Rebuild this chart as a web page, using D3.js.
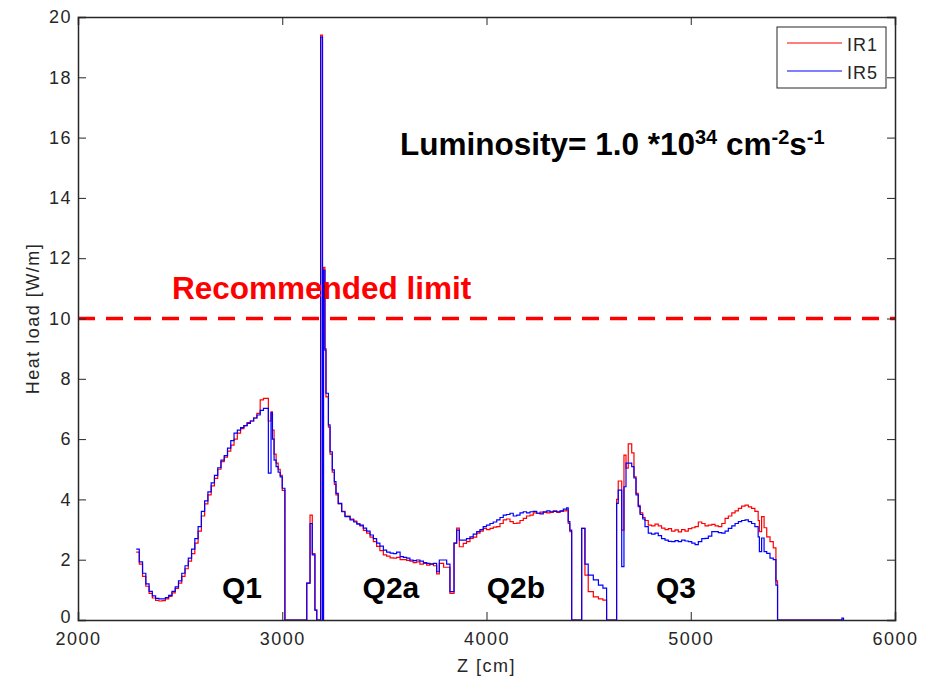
<!DOCTYPE html>
<html>
<head>
<meta charset="utf-8">
<script src="https://cdn.jsdelivr.net/npm/d3@7"></script>
<style>
    body { margin: 0; background: #fff; }
    svg { display: block; font-family: "Liberation Sans", Arial, sans-serif; }
</style>
</head>
<body>
<div id="chart"></div>
<script>
// bin start positions along Z [cm] (stairs, each value holds until the next z)
const zEdges = [
    2285, 2300, 2316, 2332, 2348, 2364, 2380, 2396, 2412, 2428, 2444, 2460, 2476, 2492, 2508, 2524,
    2540, 2556, 2572, 2588, 2604, 2620, 2636, 2652, 2668, 2684, 2700, 2716, 2732, 2748, 2764, 2780,
    2796, 2812, 2828, 2844, 2860, 2876, 2892, 2908, 2922, 2932, 2945, 2952, 2960, 2970, 2980, 2990,
    3000, 3013, 3120, 3136, 3147, 3160, 3169, 3188, 3197, 3202, 3209, 3214, 3226, 3234, 3245, 3255,
    3263, 3274, 3291, 3307, 3332, 3350, 3365, 3380, 3397, 3413, 3430, 3446, 3462, 3478, 3495, 3511,
    3528, 3544, 3560, 3577, 3593, 3609, 3625, 3641, 3657, 3674, 3691, 3707, 3723, 3740, 3756, 3769,
    3790, 3805, 3821, 3841, 3854, 3867, 3886, 3902, 3919, 3935, 3952, 3968, 3984, 4000, 4017, 4033,
    4050, 4066, 4082, 4098, 4115, 4131, 4148, 4164, 4180, 4196, 4213, 4229, 4246, 4262, 4278, 4295,
    4311, 4327, 4344, 4360, 4376, 4392, 4400, 4408, 4417, 4466, 4482, 4498, 4523, 4548, 4570, 4588,
    4637, 4645, 4662, 4673, 4683, 4694, 4711, 4722, 4732, 4743, 4752, 4765, 4776, 4792, 4808, 4825,
    4841, 4857, 4874, 4890, 4906, 4923, 4939, 4955, 4972, 4988, 5005, 5021, 5037, 5054, 5070, 5086,
    5103, 5119, 5135, 5152, 5168, 5184, 5201, 5217, 5233, 5249, 5266, 5282, 5298, 5314, 5330, 5336,
    5347, 5359, 5372, 5388, 5404, 5417, 5425, 5740, 5748
];

// heat load [W/m], IR1 (red)
const ir1 = [
    2.25, 1.85, 1.45, 1.12, 0.88, 0.73, 0.65, 0.63, 0.64, 0.70, 0.78, 0.90, 1.05, 1.22, 1.45, 1.70,
    1.95, 2.20, 2.55, 2.95, 3.45, 3.85, 4.15, 4.45, 4.70, 5.00, 5.25, 5.40, 5.60, 5.80, 6.00, 6.20,
    6.35, 6.45, 6.55, 6.60, 6.70, 6.85, 7.30, 7.35, 7.35, 6.60, 6.90, 6.30, 5.50, 5.20, 5.00, 4.80,
    4.30, 0, 1.22, 3.48, 2.20, 0.33, 0, 19.40, 0, 11.70, 9.00, 7.40, 6.40, 5.50, 4.90, 4.50,
    4.15, 3.85, 3.60, 3.45, 3.35, 3.28, 3.20, 3.12, 2.97, 2.88, 2.75, 2.60, 2.44, 2.30, 2.16, 2.12,
    2.06, 2.05, 2.08, 2.00, 2.00, 1.98, 1.95, 1.90, 1.93, 1.85, 1.88, 1.82, 1.86, 1.80, 1.53, 1.88,
    1.75, 1.75, 0.88, 2.55, 3.05, 2.43, 2.54, 2.60, 2.71, 2.75, 2.88, 2.95, 3.04, 3.00, 3.04, 3.08,
    3.10, 3.20, 3.32, 3.35, 3.26, 3.20, 3.21, 3.30, 3.37, 3.45, 3.48, 3.55, 3.54, 3.58, 3.57, 3.55,
    3.57, 3.62, 3.57, 3.60, 3.62, 3.65, 3.20, 2.93, 0, 3.04, 1.49, 0.94, 0.77, 0.70, 0.66, 0,
    4.00, 4.61, 2.98, 5.47, 5.04, 5.84, 5.54, 4.75, 4.20, 3.80, 3.55, 3.40, 3.30, 3.15, 3.12, 3.18,
    3.12, 3.05, 3.00, 3.03, 2.95, 2.99, 2.92, 3.00, 2.95, 3.03, 3.06, 3.10, 3.25, 3.20, 3.12, 3.15,
    3.17, 3.12, 3.10, 3.20, 3.37, 3.45, 3.55, 3.62, 3.70, 3.78, 3.81, 3.75, 3.70, 3.60, 3.30, 2.93,
    3.43, 3.06, 2.76, 2.60, 2.39, 1.30, 0, 0, 0
];

// heat load [W/m], IR5 (blue)
const ir5 = [
    2.35, 1.93, 1.55, 1.20, 0.95, 0.80, 0.72, 0.70, 0.70, 0.74, 0.82, 0.95, 1.10, 1.30, 1.55, 1.80,
    2.05, 2.35, 2.70, 3.10, 3.60, 3.95, 4.25, 4.55, 4.80, 5.05, 5.30, 5.45, 5.70, 5.95, 6.20, 6.30,
    6.38, 6.45, 6.52, 6.60, 6.70, 6.80, 6.95, 7.02, 7.02, 4.87, 6.87, 6.00, 5.30, 5.09, 4.90, 4.75,
    4.37, 0, 1.22, 3.20, 2.16, 0.33, 0, 19.33, 0, 11.60, 8.95, 7.52, 6.47, 5.58, 4.98, 4.59,
    4.20, 3.87, 3.59, 3.43, 3.32, 3.25, 3.18, 3.15, 3.05, 2.95, 2.82, 2.70, 2.55, 2.45, 2.32, 2.25,
    2.22, 2.20, 2.25, 2.10, 2.08, 2.05, 1.99, 1.97, 1.99, 1.95, 1.90, 1.88, 1.85, 1.88, 1.60, 1.99,
    1.99, 1.85, 0.94, 2.55, 2.98, 2.65, 2.65, 2.70, 2.76, 2.85, 2.93, 3.00, 3.10, 3.15, 3.20, 3.25,
    3.32, 3.40, 3.48, 3.50, 3.54, 3.45, 3.48, 3.55, 3.59, 3.55, 3.59, 3.60, 3.54, 3.52, 3.59, 3.62,
    3.59, 3.60, 3.59, 3.62, 3.68, 3.72, 3.26, 2.98, 0, 3.04, 1.85, 1.49, 1.33, 1.16, 1.06, 0,
    3.87, 4.31, 1.77, 4.42, 5.20, 5.20, 5.09, 4.71, 4.15, 3.76, 3.50, 3.35, 3.10, 2.88, 2.85, 2.88,
    2.80, 2.70, 2.65, 2.61, 2.60, 2.63, 2.60, 2.65, 2.62, 2.60, 2.55, 2.50, 2.60, 2.70, 2.71, 2.78,
    2.93, 2.93, 2.90, 2.88, 2.95, 3.04, 3.12, 3.20, 3.26, 3.30, 3.32, 3.26, 3.20, 3.10, 2.76, 2.27,
    2.72, 2.27, 2.21, 2.05, 2.00, 1.16, 0, 0.06, 0
];

const yTicks = [0, 2, 4, 6, 8, 10, 12, 14, 16, 18, 20];
const xTicks = [2000, 3000, 4000, 5000, 6000];
const LIMIT = 10;
const regions = [
    { label: 'Q1', z: 2803 },
    { label: 'Q2a', z: 3532 },
    { label: 'Q2b', z: 4144 },
    { label: 'Q3', z: 4928 }
];

const W = 935;
const H = 677;
const margin = { top: 17, right: 40, bottom: 57, left: 78 };
const innerW = W - margin.left - margin.right;
const innerH = H - margin.top - margin.bottom;

const svg = d3.select('#chart').append('svg').attr('width', W).attr('height', H);
const g = svg.append('g').attr('transform', `translate(${margin.left},${margin.top})`);

const x = d3.scaleLinear().domain([2000, 6000]).range([0, innerW]);
const y = d3.scaleLinear().domain([0, 20]).range([innerH, 0]);

const toPoints = (vals) => zEdges.map((z, i) => ({ z, v: vals[i] }));

const stairs = d3
    .line()
    .x((d) => x(d.z))
    .y((d) => y(d.v))
    .curve(d3.curveStepAfter);

g.append('path')
    .datum(toPoints(ir1))
    .attr('fill', 'none')
    .attr('stroke', '#ff0000')
    .attr('stroke-width', 1.2)
    .attr('d', stairs);

g.append('path')
    .datum(toPoints(ir5))
    .attr('fill', 'none')
    .attr('stroke', '#0000ff')
    .attr('stroke-width', 1.2)
    .attr('d', stairs);

// recommended limit
g.append('line')
    .attr('x1', 0)
    .attr('x2', innerW)
    .attr('y1', y(LIMIT))
    .attr('y2', y(LIMIT))
    .attr('stroke', '#ff0000')
    .attr('stroke-width', 3.5)
    .attr('stroke-dasharray', '17,11');

g.append('text')
    .attr('x', 94)
    .attr('y', y(LIMIT) - 20)
    .style('font-size', '31.5px')
    .style('font-weight', 'bold')
    .style('fill', '#ff0000')
    .text('Recommended limit');

// luminosity note
const lum = g.append('text')
    .attr('x', 322)
    .attr('y', 138)
    .style('font-size', '31.5px')
    .style('font-weight', 'bold')
    .style('fill', '#000');
lum.append('tspan').text('Luminosity= 1.0 *10');
lum.append('tspan').attr('dy', -11).style('font-size', '20px').text('34');
lum.append('tspan').attr('dy', 11).text(' cm');
lum.append('tspan').attr('dy', -11).style('font-size', '20px').text('-2');
lum.append('tspan').attr('dy', 11).text('s');
lum.append('tspan').attr('dy', -11).style('font-size', '20px').text('-1');

// magnet labels
g.selectAll('text.region')
    .data(regions)
    .enter()
    .append('text')
    .attr('class', 'region')
    .attr('x', (d) => x(d.z))
    .attr('y', innerH - 22)
    .attr('text-anchor', 'middle')
    .style('font-size', '30px')
    .style('font-weight', 'bold')
    .text((d) => d.label);

// axes (MATLAB-style box with inward ticks)
const axColor = '#262626';
const tickLen = 8;
const fmt = d3.format('d');

const axB = g.append('g').attr('transform', `translate(0,${innerH})`)
    .call(d3.axisBottom(x).tickValues(xTicks).tickSize(-tickLen).tickPadding(12).tickFormat(fmt));
const axT = g.append('g')
    .call(d3.axisTop(x).tickValues(xTicks).tickSize(-tickLen).tickFormat(''));
const axL = g.append('g')
    .call(d3.axisLeft(y).tickValues(yTicks).tickSize(-tickLen).tickPadding(6).tickFormat(fmt));
const axR = g.append('g').attr('transform', `translate(${innerW},0)`)
    .call(d3.axisRight(y).tickValues(yTicks).tickSize(-tickLen).tickFormat(''));

[axB, axT, axL, axR].forEach((a) => {
    a.select('.domain').attr('stroke', axColor).attr('stroke-width', 1.5);
    a.selectAll('.tick line').attr('stroke', axColor).attr('stroke-width', 1);
    a.selectAll('.tick text')
        .attr('fill', axColor)
        .style('font-size', '18px')
        .style('letter-spacing', '1.5px')
        .style('font-family', '"Liberation Sans", Arial, sans-serif');
});

// lift the "0" label a touch so it clears the "2000" below it
axL.selectAll('.tick text').filter((d) => d === 0).attr('y', -3);

// axis labels
g.append('text')
    .attr('x', innerW / 2)
    .attr('y', innerH + 52)
    .attr('text-anchor', 'middle')
    .style('font-size', '18px')
    .style('letter-spacing', '1.5px')
    .style('fill', axColor)
    .text('Z [cm]');

g.append('text')
    .attr('transform', `translate(${-39},${innerH / 2}) rotate(-90)`)
    .attr('text-anchor', 'middle')
    .style('font-size', '18px')
    .style('letter-spacing', '1.5px')
    .style('fill', axColor)
    .text('Heat load [W/m]');

// legend
const legend = g.append('g').attr('transform', `translate(${innerW - 118},10)`);
legend.append('rect')
    .attr('width', 109)
    .attr('height', 61)
    .attr('fill', '#fff')
    .attr('stroke', axColor)
    .attr('stroke-width', 1);

const legendItems = [
    { name: 'IR1', color: '#ff0000' },
    { name: 'IR5', color: '#0000ff' }
];
legendItems.forEach((d, i) => {
    const ly = 16 + i * 28;
    legend.append('line')
        .attr('x1', 10).attr('x2', 65)
        .attr('y1', ly).attr('y2', ly)
        .attr('stroke', d.color)
        .attr('stroke-width', 1.2);
    legend.append('text')
        .attr('x', 70)
        .attr('y', ly + 8)
        .style('font-size', '18px')
        .style('letter-spacing', '1px')
        .style('fill', axColor)
        .text(d.name);
});
</script>
</body>
</html>
